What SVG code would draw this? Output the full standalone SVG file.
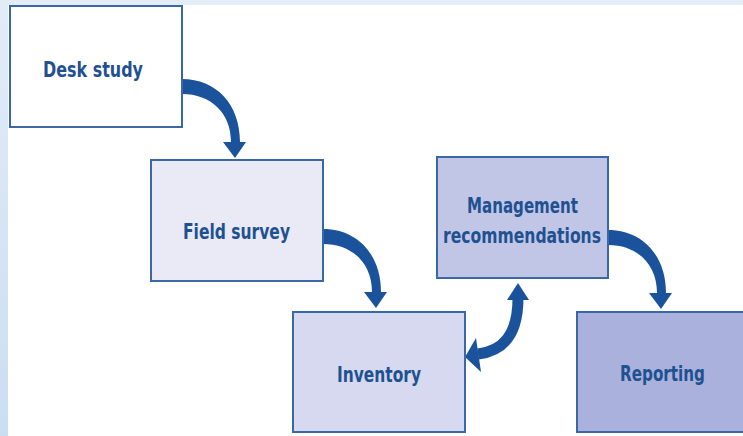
<svg xmlns="http://www.w3.org/2000/svg" width="743" height="436" viewBox="0 0 743 436">
<defs>
<linearGradient id="side" x1="0" y1="0" x2="0" y2="1">
<stop offset="0" stop-color="#e2ecf7"/>
<stop offset="1" stop-color="#cadef2"/>
</linearGradient>
<style>
.box{stroke:#3a68a6;stroke-width:2}
.lbl{font-family:"DejaVu Sans Condensed","DejaVu Sans",sans-serif;font-weight:bold;font-size:22px;fill:#1f5191;text-anchor:middle}
.arr{fill:#1a539c}
.shaft{fill:none;stroke:#1a539c;stroke-width:11}
</style>
<path id="curl" d="M182,79 C216,79 240,104 240,142 L246,142 L235,158 L223,142 L231,142 C231,113 211,94 182,94 Z"/>
</defs>
<rect width="743" height="436" fill="#ffffff"/>
<rect x="0" y="0" width="743" height="5" fill="#e3edf8"/>
<rect x="0" y="0" width="8" height="436" fill="url(#side)"/>

<g id="connectors">
<use href="#curl" class="arr"/>
<use href="#curl" class="arr" transform="translate(141,150)"/>
<use href="#curl" class="arr" transform="translate(426,151)"/>
<g id="inventory-management">
<path class="shaft" d="M518,298 C518,336 502,351 478,354"/>
<polygon class="arr" points="507,300 529,300 518,283"/>
<polygon class="arr" points="476,338 481,372 465,357"/>
</g>
</g>

<g id="desk-study">
<rect class="box" x="10" y="6" width="172" height="121" fill="#ffffff"/>
<text class="lbl" x="93" y="77" textLength="100" lengthAdjust="spacingAndGlyphs">Desk study</text>
</g>
<g id="field-survey">
<rect class="box" x="151" y="160" width="172" height="121" fill="#eaeaf6"/>
<text class="lbl" x="236.5" y="239" textLength="107" lengthAdjust="spacingAndGlyphs">Field survey</text>
</g>
<g id="management">
<rect class="box" x="437" y="157" width="171" height="121" fill="#c1c6e6"/>
<text class="lbl" x="522.5" y="213" textLength="111" lengthAdjust="spacingAndGlyphs">Management</text>
<text class="lbl" x="522" y="243" textLength="158" lengthAdjust="spacingAndGlyphs">recommendations</text>
</g>
<g id="inventory">
<rect class="box" x="293" y="312" width="172" height="120" fill="#d6d9ef"/>
<text class="lbl" x="379" y="382" textLength="84" lengthAdjust="spacingAndGlyphs">Inventory</text>
</g>
<g id="reporting">
<rect class="box" x="577" y="312" width="172" height="120" fill="#a9b1dc"/>
<text class="lbl" x="662.5" y="381" textLength="85" lengthAdjust="spacingAndGlyphs">Reporting</text>
</g>
</svg>
